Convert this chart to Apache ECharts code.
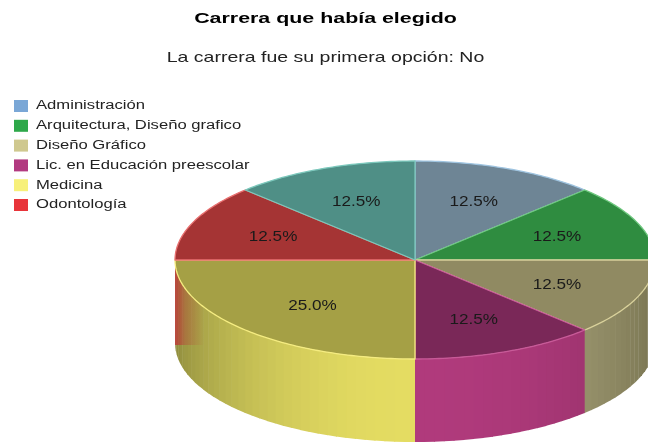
<!DOCTYPE html>
<html>
<head>
<meta charset="utf-8">
<style>html,body{margin:0;padding:0;background:#fff}#main{width:648px;height:444px}</style>
<script src="https://cdn.jsdelivr.net/npm/echarts@6/dist/echarts.min.js"></script>
</head>
<body>
<div id="main"></div>
<script>
// datos
var categories = ["Administración", "Arquitectura, Diseño grafico", "Diseño Gráfico", "Lic. en Educación preescolar", "Medicina", "Odontología", "Otra"];
var percents = [12.5, 12.5, 12.5, 12.5, 25.0, 12.5, 12.5];
var legendNames = categories.slice(0, 6);

// colores: leyenda, cara superior, pared
var legendColors = ["#7aa7d6", "#2ea84a", "#cfc88f", "#b23a80", "#f7f07a", "#e8343a", "#5fb0a0"];
var topColors = ["#6e8595", "#2f8c40", "#908a62", "#7a2858", "#a5a045", "#a53434", "#4f8f86"];
var wallLight = ["#7aa7d6", "#2ea84a", "#a8a27a", "#b03a7c", "#e4dc62", "#c04040", "#5fb0a0"];
var wallDark = ["#5a7da0", "#1e7032", "#76724f", "#862c5e", "#8c8a3c", "#8c3030", "#40786c"];
var rimColors = ["#9fc4e0", "#6fc87f", "#d8d09a", "#c85a98", "#f5ec80", "#e87070", "#7cc8bc"];

var cx = 415, cy = 260, rx = 240, ry = 99, depth = 83;
var labelR = 0.64;
var labelShiftX = [0, 0, 0, 0, 6, 0, 0];
var FONT = "'Liberation Sans', Arial, sans-serif";

var total = percents.reduce(function (a, b) { return a + b; }, 0);

function pt(a, f) {
  return [cx + rx * f * Math.sin(a), cy - ry * f * Math.cos(a)];
}

function mix(c1, c2, t) {
  var a = parseInt(c1.slice(1), 16), b = parseInt(c2.slice(1), 16);
  var r = Math.round((a >> 16) * (1 - t) + (b >> 16) * t);
  var g = Math.round(((a >> 8) & 255) * (1 - t) + ((b >> 8) & 255) * t);
  var bl = Math.round((a & 255) * (1 - t) + (b & 255) * t);
  return "rgb(" + r + "," + g + "," + bl + ")";
}

function sliceSeries(idx) {
  var before = percents.slice(0, idx).reduce(function (a, b) { return a + b; }, 0);
  return {
    type: "custom",
    name: categories[idx],
    coordinateSystem: "none",
    itemStyle: { color: legendColors[idx] },
    data: [percents[idx]],
    silent: true,
    renderItem: function (params, api) {
      var start = before / total * Math.PI * 2;
      var end = start + api.value(0) / total * Math.PI * 2;
      var children = [];
      var steps = Math.max(8, Math.round((end - start) * 24));
      var i, a0, a1;
      // pared lateral, solo la mitad de adelante
      for (i = 0; i < steps; i++) {
        a0 = start + (end - start) * i / steps;
        a1 = start + (end - start) * (i + 1) / steps + 0.004;
        if (Math.cos((a0 + a1) / 2) >= 0) continue;
        var p0 = pt(a0, 1), p1 = pt(a1, 1);
        var shade = Math.pow(Math.max(0, -Math.cos((a0 + a1) / 2)), 1.4);
        children.push({
          type: "polygon",
          shape: { points: [p0, p1, [p1[0], p1[1] + depth], [p0[0], p0[1] + depth]] },
          style: { fill: mix(wallDark[idx], wallLight[idx], shade) }
        });
      }
      // el rojo de odontologia asoma por la izquierda de la pared
      if (idx === 4) {
        var glow = [];
        for (i = 0; i <= 10; i++) glow.push(pt(end - 0.5 * i / 10, 1));
        glow.push([glow[10][0], cy + depth + 2], [glow[0][0], cy + depth + 2]);
        children.push({
          type: "polygon",
          shape: { points: glow },
          style: {
            fill: new echarts.graphic.LinearGradient(0, 0, 1, 0, [
              { offset: 0, color: "rgba(190,55,55,0.85)" },
              { offset: 0.35, color: "rgba(190,55,55,0.35)" },
              { offset: 1, color: "rgba(190,55,55,0)" }
            ])
          }
        });
      }
      // cara superior
      var pts = [[cx, cy]];
      var n = Math.max(12, Math.round((end - start) * 60));
      for (i = 0; i <= n; i++) pts.push(pt(start + (end - start) * i / n, 1));
      children.push({
        type: "polygon",
        shape: { points: pts },
        style: { fill: topColors[idx], stroke: rimColors[idx], lineWidth: 1.3, lineJoin: "round" }
      });
      var mid = (start + end) / 2, lp = pt(mid, labelR);
      children.push({
        type: "text",
        x: lp[0] + labelShiftX[idx],
        y: lp[1] + 1,
        scaleX: 1.18,
        style: {
          text: api.value(0).toFixed(1) + "%",
          fill: "#1a1a1a",
          font: "14.5px " + FONT,
          align: "center",
          verticalAlign: "middle"
        }
      });
      return { type: "group", children: children };
    }
  };
}

// la imagen original esta estirada a lo ancho, por eso el scaleX en los textos
var legendItems = [];
legendNames.forEach(function (name, i) {
  var y = 106 + i * 19.8;
  legendItems.push({
    type: "rect",
    shape: { x: 14, y: y - 6, width: 14, height: 12 },
    style: { fill: legendColors[i] }
  });
  legendItems.push({
    type: "text",
    x: 36,
    y: y,
    scaleX: 1.33,
    style: { text: name, font: "12.5px " + FONT, fill: "#222", align: "left", verticalAlign: "middle" }
  });
});

var titleItems = [
  { type: "text", x: 325.5, y: 19, scaleX: 1.38,
    style: { text: "Carrera que había elegido", font: "bold 15.5px " + FONT, fill: "#000", align: "center", verticalAlign: "middle" } },
  { type: "text", x: 325.5, y: 58, scaleX: 1.3,
    style: { text: "La carrera fue su primera opción: No", font: "15px " + FONT, fill: "#222", align: "center", verticalAlign: "middle" } }
];

var chart = echarts.init(document.getElementById("main"));
chart.setOption({
  animation: false,
  backgroundColor: "#ffffff",
  graphic: titleItems.concat(legendItems),
  series: categories.map(function (c, i) { return sliceSeries(i); })
});
</script>
</body>
</html>
